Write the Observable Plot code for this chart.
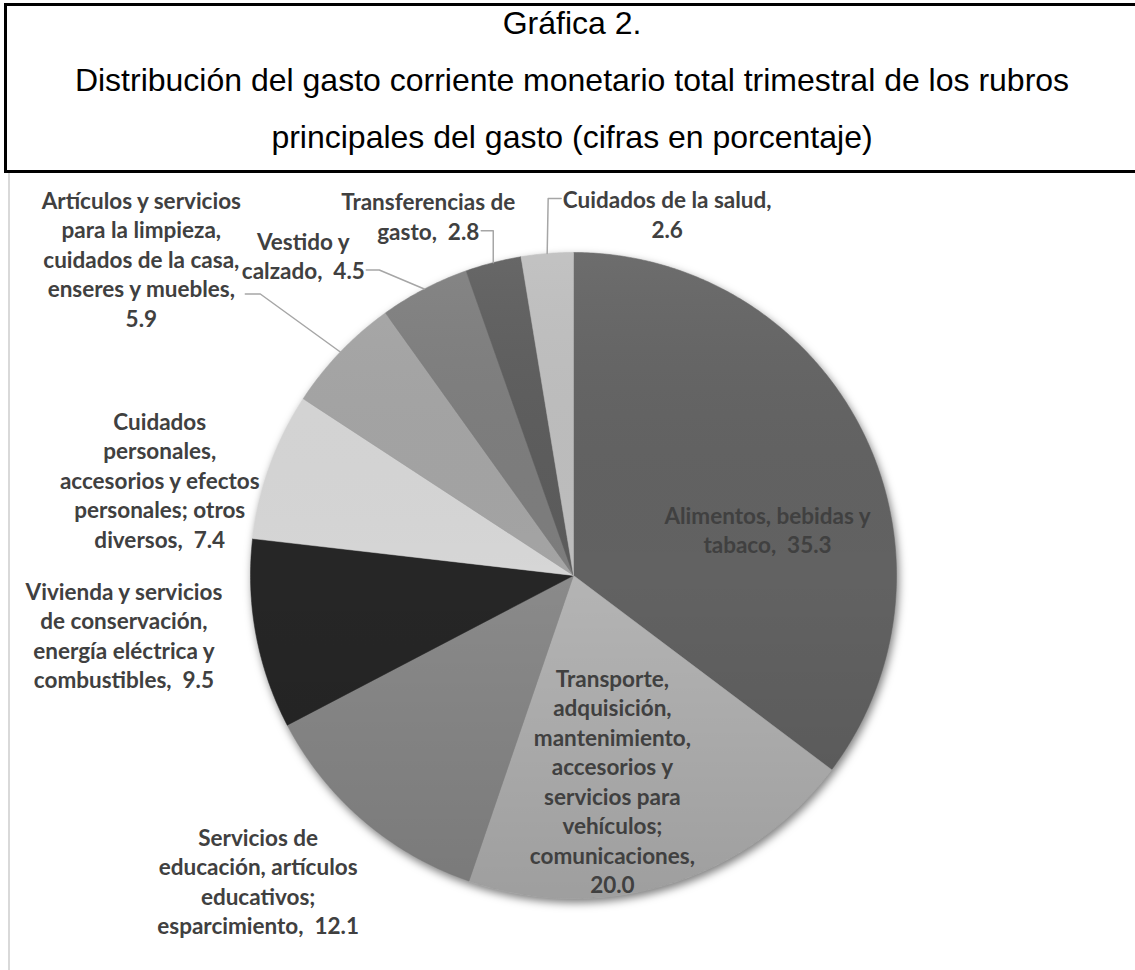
<!DOCTYPE html>
<html><head><meta charset="utf-8">
<script src="https://cdn.jsdelivr.net/npm/d3@7"></script>
<script src="https://cdn.jsdelivr.net/npm/@observablehq/plot@0.6"></script>
<style>
html,body{margin:0;padding:0;background:#fff;overflow:hidden;width:1135px;height:970px;}
#title{position:absolute;left:4px;top:3px;width:1140px;height:170px;border:3px solid #000;box-sizing:border-box;font-family:"Liberation Sans",Arial,sans-serif;font-size:32px;color:#000;}
#title div{position:absolute;left:0;width:1130px;text-align:center;line-height:36px;white-space:nowrap;}
#chart{position:absolute;left:0;top:172px;}
#frame{position:absolute;left:8px;top:173px;width:2px;height:797px;background:#d9d9d9;}
</style></head>
<body>
<div id="title">
  <div style="top:-1px">Gráfica 2.</div>
  <div style="top:56px">Distribución del gasto corriente monetario total trimestral de los rubros</div>
  <div style="top:113px">principales del gasto (cifras en porcentaje)</div>
</div>
<div id="frame"></div>
<div id="chart"></div>
<script>
// ---- data ----
const categories = [
  "Alimentos, bebidas y tabaco",
  "Transporte, adquisición, mantenimiento, accesorios y servicios para vehículos; comunicaciones",
  "Servicios de educación, artículos educativos; esparcimiento",
  "Vivienda y servicios de conservación, energía eléctrica y combustibles",
  "Cuidados personales, accesorios y efectos personales; otros diversos",
  "Artículos y servicios para la limpieza, cuidados de la casa, enseres y muebles",
  "Vestido y calzado",
  "Transferencias de gasto",
  "Cuidados de la salud"
];
const values = [35.3, 20.0, 12.1, 9.5, 7.4, 5.9, 4.5, 2.8, 2.6];
const sliceColors = ["#626262", "#b4b4b4", "#8a8a8a", "#262626", "#d6d6d6", "#a4a4a4", "#7d7d7d", "#5c5c5c", "#bebebe"];
// label wrapping (last entry is prefix for the value; "" = value on its own line)
const labelWrap = [
  ["Alimentos, bebidas y", "tabaco,"],
  ["Transporte,", "adquisición,", "mantenimiento,", "accesorios y", "servicios para", "vehículos;", "comunicaciones,", ""],
  ["Servicios de", "educación, artículos", "educativos;", "esparcimiento,"],
  ["Vivienda y servicios", "de conservación,", "energía eléctrica y", "combustibles,"],
  ["Cuidados", "personales,", "accesorios y efectos", "personales; otros", "diversos,"],
  ["Artículos y servicios", "para la limpieza,", "cuidados de la casa,", "enseres y muebles,", ""],
  ["Vestido y", "calzado,"],
  ["Transferencias de", "gasto,"],
  ["Cuidados de la salud,", ""]
];
// ---- layout (pixel offsets from each slice's outer mid point) ----
const labelOffset = [[-95, 98], [-56, -103.5], [-105, 60], [-132, 0], [-110, 13.5], [-199, -93.5], [-121, -34], [-65, -47], [120, -40]];
const leaderOffset = [null, null, null, null, null, [[-95, -58], [-80, -58]], [[-58, -19], [-45, -19]], [[-12, -32], [0, -32]], [[14, -55], [1, -55]]];

const R = 323; // pie radius in px
const W = 1135, H = 798;
const cx = 573, cy = 403;

const total = d3.sum(values);
let acc = 0;
const slices = categories.map((c, i) => {
  const a0 = acc / total * 2 * Math.PI; acc += values[i];
  const a1 = acc / total * 2 * Math.PI;
  const mid = (a0 + a1) / 2;
  const lines = labelWrap[i].slice();
  const last = lines.pop();
  lines.push(last ? last + "  " + values[i].toFixed(1) : values[i].toFixed(1));
  return {c, i, a0, a1, mid, v: values[i], ex: Math.sin(mid), ey: Math.cos(mid), label: lines.join("\n")};
});

const piePts = slices.flatMap(s => {
  const n = Math.max(2, Math.ceil((s.a1 - s.a0) / (Math.PI / 360)));
  const pts = [{c: s.c, x: 0, y: 0}];
  for (let k = 0; k <= n; k++) {
    const a = s.a0 + (s.a1 - s.a0) * k / n;
    pts.push({c: s.c, x: Math.sin(a), y: Math.cos(a)});
  }
  pts.push({c: s.c, x: 0, y: 0});
  return pts;
});
const circlePts = d3.range(0, 721).map(k => ({x: Math.sin(k / 720 * 2 * Math.PI), y: Math.cos(k / 720 * 2 * Math.PI)}));

const leaderPts = slices.filter(s => leaderOffset[s.i]).flatMap(s => {
  const [p0, p1] = leaderOffset[s.i];
  return [
    {c: s.c, x: s.ex + p0[0] / R, y: s.ey - p0[1] / R},
    {c: s.c, x: s.ex + p1[0] / R, y: s.ey - p1[1] / R},
    {c: s.c, x: s.ex, y: s.ey}
  ];
});

const textOpts = {
  text: "label",
  fontSize: 22.5, fontWeight: "bold", fontFamily: "Lato, 'Open Sans', sans-serif",
  fill: "#404040", lineHeight: 29.5 / 22.5, textAnchor: "middle", lineAnchor: "middle",
  x: d => d.ex + labelOffset[d.i][0] / R,
  y: d => d.ey - labelOffset[d.i][1] / R
};

const svg = Plot.plot({
  width: W, height: H,
  marginLeft: cx - R, marginRight: W - cx - R,
  marginTop: cy - R, marginBottom: H - cy - R,
  x: {domain: [-1, 1], axis: null},
  y: {domain: [-1, 1], axis: null},
  color: {domain: categories, range: sliceColors},
  style: {background: "transparent", overflow: "visible"},
  marks: [
    Plot.line(piePts, {x: "x", y: "y", z: "c", fill: "c", stroke: "c", strokeWidth: 0.5, curve: "linear"}),
    Plot.line(circlePts, {x: "x", y: "y", fill: "url(#pieShade)", stroke: "none", curve: "linear"}),
    Plot.line(leaderPts, {x: "x", y: "y", z: "c", stroke: "#a6a6a6", strokeWidth: 1.5, curve: "linear"}),
    Plot.text(slices, textOpts)
  ]
});
d3.select(svg).insert("defs", ":first-child").html(
  '<linearGradient id="pieShade" x1="0" y1="0" x2="0" y2="1">' +
  '<stop offset="0" stop-color="#ffffff" stop-opacity="0.07"/>' +
  '<stop offset="0.5" stop-color="#000000" stop-opacity="0"/>' +
  '<stop offset="1" stop-color="#000000" stop-opacity="0.12"/></linearGradient>');
const pieG = svg.querySelector('g[aria-label="line"]');
if (pieG) pieG.style.filter = "drop-shadow(2px 4px 4px rgba(0,0,0,0.5))";
document.getElementById("chart").appendChild(svg);
</script>
</body></html>
